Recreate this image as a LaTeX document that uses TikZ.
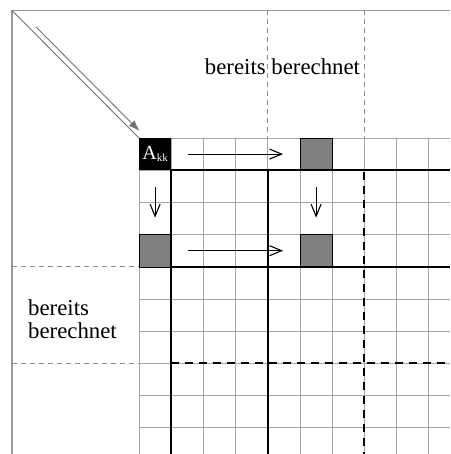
\documentclass[tikz,border=0pt]{standalone}
\usepackage{fontspec}
\setmainfont{Liberation Serif}
\usetikzlibrary{arrows.meta}
\begin{document}
\begin{tikzpicture}[x=1pt,y=-1pt,
  frameline/.style={draw=black!40,line width=1.2pt},
  gridline/.style={draw=black!35,line width=0.9pt},
  thickline/.style={draw=black,line width=2pt},
  thickdash/.style={draw=black,line width=2pt,dash pattern=on 8pt off 6pt},
  graydash/.style={draw=black!45,line width=0.9pt,dash pattern=on 5pt off 4pt},
  cellbox/.style={minimum size=32.2pt,inner sep=0pt,outer sep=0pt},
  graycell/.style={cellbox,fill=black!50,draw=black,line width=0.6pt},
  flow/.style={draw=black,line width=1.1pt,-{Straight Barb[length=12pt,width=10pt]},shorten <=17pt,shorten >=17pt},
  label/.style={font=\fontsize{22.8}{23}\selectfont,inner sep=0pt}
]
\useasboundingbox (0,0) rectangle (450,454);
\clip (0,0) rectangle (450,454);
% grid
\foreach \i in {0,...,9} \draw[gridline] ({139+32.2*\i},138) -- ({139+32.2*\i},454);
\foreach \j in {0,...,9} \draw[gridline] (139,{138+32.2*\j}) -- (450,{138+32.2*\j});
% frame
\draw[frameline] (450,10.5) -- (12,10.5) -- (12,454);
% gray dashed separators
\draw[graydash] (267.8,10.5) -- (267.8,138);
\draw[graydash] (364.4,10.5) -- (364.4,138);
\draw[graydash] (12,266.8) -- (139,266.8);
\draw[graydash] (12,363.4) -- (139,363.4);
% cells
\node[cellbox,fill=black,text=white] (akk) at (155.1,154.1)
  {\fontsize{20}{20}\selectfont A\raisebox{-2pt}{\fontsize{11}{11}\selectfont kk}};
\node[graycell] (g1) at (316.1,154.1) {};
\node[graycell] (g2) at (155.1,250.7) {};
\node[graycell] (g3) at (316.1,250.7) {};
% thick lines
\draw[thickline] (171.2,170.2) -- (450,170.2);
\draw[thickline] (171.2,266.8) -- (450,266.8);
\draw[thickline] (171.2,170.2) -- (171.2,454);
\draw[thickline] (267.8,170.2) -- (267.8,454);
\draw[thickdash] (364.4,172) -- (364.4,454);
\draw[thickdash] (171.2,363.4) -- (450,363.4);
% diagonal
\coordinate (corner) at (12,10.5);
\coordinate (dstart) at (36,27);
\coordinate (dend) at (139.5,131);
\draw[draw=black!55,line width=0.9pt] (corner) -- (akk.north west);
\draw[draw=black!55,line width=0.9pt,-{Latex[length=11pt,width=8pt]}] (dstart) -- (dend);
% arrows
\draw[flow] (akk.east) -- (g1.west);
\draw[flow] (g2.east) -- (g3.west);
\draw[flow] (akk.south) -- (g2.north);
\draw[flow] (g1.south) -- (g3.north);
% labels
\node[label,anchor=base] (top) at (282.5,75) {bereits berechnet};
\node[label,anchor=base west,align=left] (left) at (28,338) {bereits\\berechnet};
\end{tikzpicture}
\end{document}
